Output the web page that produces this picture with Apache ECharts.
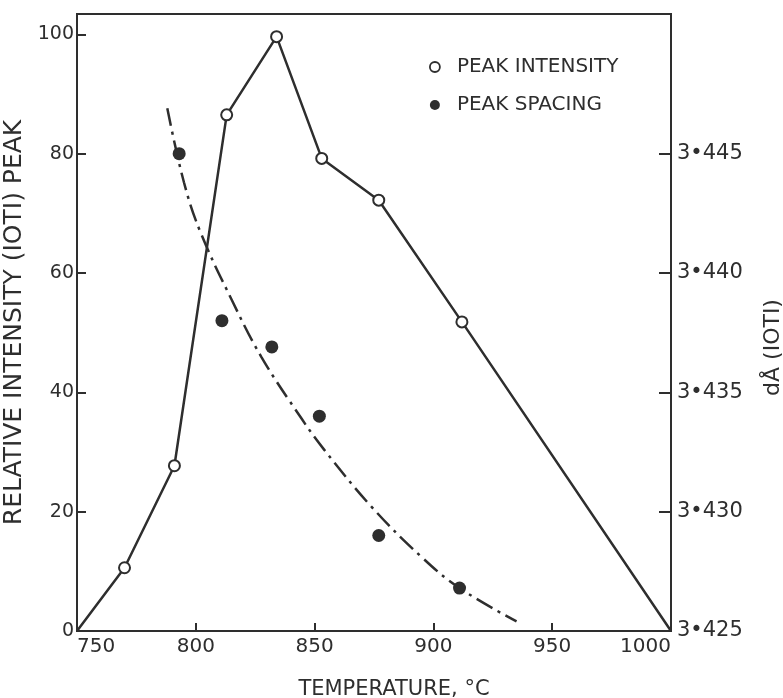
<!DOCTYPE html>
<html>
<head>
<meta charset="utf-8">
<script src="https://cdn.jsdelivr.net/npm/echarts@6/dist/echarts.min.js"></script>
<style>
html,body{margin:0;padding:0;background:#fff;}
#chart{width:783px;height:698px;}
</style>
</head>
<body>
<div id="chart"></div>
<script>
// ---- data ----
const intensityTemps = [750, 770, 791, 813, 834, 853, 877, 912, 1000];
const intensityValues = [0, 10.6, 27.7, 86.5, 99.6, 79.2, 72.2, 51.8, 0];
const intensityMarked = [false, true, true, true, true, true, true, true, false];

const spacingTemps = [793, 811, 832, 852, 877, 911];
const spacingValues = [3.4450, 3.4380, 3.4369, 3.4340, 3.4290, 3.4268];

const curveTemps = [788, 795, 802, 815, 827.5, 844.5, 854, 874, 895, 911, 935];
const curveValues = [3.4469, 3.4438, 3.4417, 3.4389, 3.4365, 3.4339, 3.4326, 3.4302, 3.4281, 3.4268, 3.4254];

const leftTicks = [0, 20, 40, 60, 80, 100];
const rightTicks = [3.425, 3.430, 3.435, 3.440, 3.445];

const xName = 'TEMPERATURE, °C';
const leftName = 'RELATIVE INTENSITY (IOTI) PEAK';
const rightName = 'dÅ (IOTI)';
const legendNames = ['PEAK INTENSITY', 'PEAK SPACING'];

// ---- chart ----
const ink = '#2e2e2e';
const font = 'DejaVu Sans';
const chart = echarts.init(document.getElementById('chart'), null, {renderer: 'canvas'});

const intensityData = intensityTemps.map((t, i) =>
  intensityMarked[i] ? [t, intensityValues[i]] : {value: [t, intensityValues[i]], symbol: 'none'});
const spacingData = spacingTemps.map((t, i) => [t, spacingValues[i]]);
const curveData = curveTemps.map((t, i) => [t, curveValues[i]]);

chart.setOption({
  backgroundColor: '#fff',
  animation: false,
  textStyle: {fontFamily: font, color: ink},
  grid: {left: 77, right: 112, top: 14, bottom: 67, containLabel: false, outerBoundsMode: 'none',
    show: true, borderColor: ink, borderWidth: 2, backgroundColor: 'transparent'},
  legend: {
    orient: 'vertical', left: 424, top: 51, itemGap: 16, itemWidth: 10, itemHeight: 10,
    textStyle: {fontFamily: font, fontSize: 20, color: ink, lineHeight: 22, padding: [0, 0, 0, 12]},
    data: [
      {name: legendNames[0], icon: 'circle', itemStyle: {color: '#fff', borderColor: ink, borderWidth: 1.8}},
      {name: legendNames[1], icon: 'circle', itemStyle: {color: ink, borderWidth: 0, opacity: 1}}
    ]
  },
  xAxis: {
    type: 'value', min: 750, max: 1000, interval: 50,
    name: xName, nameLocation: 'middle', nameGap: 48,
    nameTextStyle: {fontFamily: font, fontSize: 21, color: ink, padding: [0, 0, 0, 40]},
    axisLine: {show: true, lineStyle: {color: ink, width: 2}},
    axisTick: {show: true, inside: true, length: 8, lineStyle: {color: ink, width: 2}},
    axisLabel: {fontFamily: font, fontSize: 20, color: ink, margin: 6, alignMinLabel: 'left', alignMaxLabel: 'right',
      formatter: v => String(v)},
    splitLine: {show: false}
  },
  yAxis: [
    {
      type: 'value', min: 0, max: 103.4, position: 'left',
      name: leftName, nameLocation: 'middle', nameGap: 41, nameRotate: 90,
      nameTextStyle: {fontFamily: font, fontSize: 25, color: ink},
      axisLine: {show: true, lineStyle: {color: ink, width: 2}},
      axisTick: {show: true, inside: true, length: 9, customValues: leftTicks, lineStyle: {color: ink, width: 2}},
      axisLabel: {fontFamily: font, fontSize: 19, color: ink, margin: 3, customValues: leftTicks},
      splitLine: {show: false}
    },
    {
      type: 'value', min: 3.425, max: 3.45085, position: 'right',
      name: rightName, nameLocation: 'middle', nameGap: 91, nameRotate: 90,
      nameTextStyle: {fontFamily: font, fontSize: 22, color: ink, padding: [0, 50, 0, 0]},
      axisLine: {show: true, lineStyle: {color: ink, width: 2}},
      axisTick: {show: true, inside: true, length: 12, customValues: rightTicks, lineStyle: {color: ink, width: 2}},
      axisLabel: {fontFamily: font, fontSize: 21, color: ink, margin: 6, customValues: rightTicks,
        formatter: v => v.toFixed(3).replace('.', '•')},
      splitLine: {show: false}
    }
  ],
  series: [
    {
      name: legendNames[0], type: 'line', xAxisIndex: 0, yAxisIndex: 0,
      data: intensityData, symbol: 'circle', symbolSize: 11,
      itemStyle: {color: '#fff', borderColor: ink, borderWidth: 2},
      lineStyle: {color: ink, width: 2.5}, z: 3
    },
    {
      name: legendNames[1], type: 'scatter', xAxisIndex: 0, yAxisIndex: 1,
      data: spacingData, symbol: 'circle', symbolSize: 13,
      itemStyle: {color: ink, opacity: 1}, z: 4
    },
    {
      name: 'spacing trend', type: 'line', xAxisIndex: 0, yAxisIndex: 1,
      data: curveData, symbol: 'none', smooth: 0.4,
      lineStyle: {color: ink, width: 2.5, type: [18, 6, 3, 6]}, z: 2
    }
  ]
});
</script>
</body>
</html>
